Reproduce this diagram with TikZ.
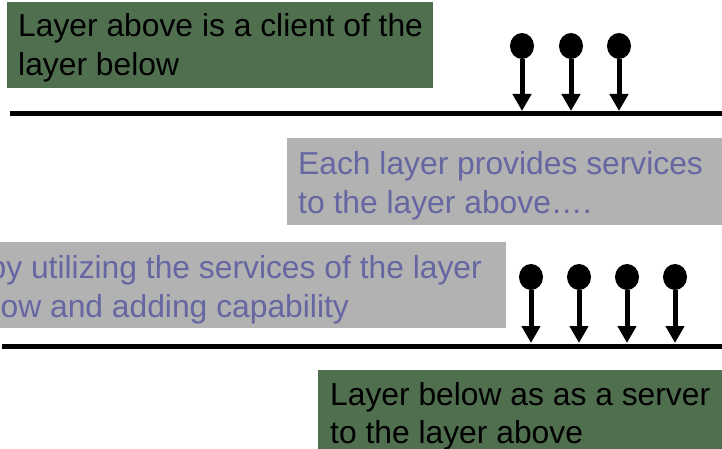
\documentclass[tikz,border=0pt]{standalone}
\usepackage{fontspec}
\setmainfont{Liberation Sans}
\usepackage{tikz}
\usetikzlibrary{arrows.meta,shapes.geometric}
\definecolor{boxgreen}{RGB}{79,111,79}
\definecolor{boxgray}{RGB}{178,178,178}
\definecolor{slateblue}{RGB}{102,102,162}

\begin{document}
\begin{tikzpicture}[x=1pt,y=-1pt,
    txt/.style={inner sep=0pt,font=\fontsize{31.8}{39}\selectfont},
    greenbox/.style={fill=boxgreen,inner sep=0pt,anchor=north west},
    graybox/.style={fill=boxgray,inner sep=0pt,anchor=north west},
    pinhead/.style={ellipse,fill=black,inner sep=0pt,minimum width=24pt,minimum height=26pt},
    pinarrow/.style={line width=5pt,-{Triangle[width=18pt,length=17pt]}},
    layerline/.style={line width=5pt}]
\useasboundingbox (0,0) rectangle (722,449);
\clip (0,0) rectangle (722,449);
% boxes
\node[greenbox,minimum width=426pt,minimum height=86pt] (client) at (7,2) {};
\node[graybox,minimum width=440pt,minimum height=87pt] (provides) at (287,138) {};
\node[graybox,minimum width=526pt,minimum height=86pt] (utilize) at (-20,242) {};
\node[greenbox,minimum width=410pt,minimum height=85pt] (server) at (318,370) {};
% texts
\node[txt,anchor=base west] (client1) at (18,37) {Layer above is a client of the};
\node[txt,anchor=base west] (client2) at (18,76) {layer below};
\node[txt,anchor=base west,text=slateblue] (provides1) at (298,175) {Each layer provides services};
\node[txt,anchor=base west,text=slateblue] (provides2) at (298,213) {to the layer above\dots.};
\node[txt,anchor=base east,text=slateblue] (utilize1) at (482,278) {by utilizing the services of the layer};
\node[txt,anchor=base west,text=slateblue] (utilize2) at (-42,317) {below and adding capability};
\node[txt,anchor=base west] (server1) at (330,405) {Layer below as as a server};
\node[txt,anchor=base west] (server2) at (330,443) {to the layer above};
% layer lines
\coordinate (upperL) at (10,114);
\coordinate (upperR) at (722,114);
\coordinate (lowerL) at (2,346);
\coordinate (lowerR) at (722,346);
\draw[layerline] (upperL) -- (upperR);
\draw[layerline] (lowerL) -- (lowerR);
% pins
\foreach \x [count=\i] in {522,571,619}
    {\node[pinhead] (up\i) at (\x,46) {};
    \coordinate (uptip\i) at (\x,111);
    \draw[pinarrow] (up\i.south) -- (uptip\i);}
\foreach \x [count=\i] in {531,579,627,675}
    {\node[pinhead] (low\i) at (\x,277) {};
    \coordinate (lowtip\i) at (\x,343);
    \draw[pinarrow] (low\i.south) -- (lowtip\i);}
\end{tikzpicture}
\end{document}
